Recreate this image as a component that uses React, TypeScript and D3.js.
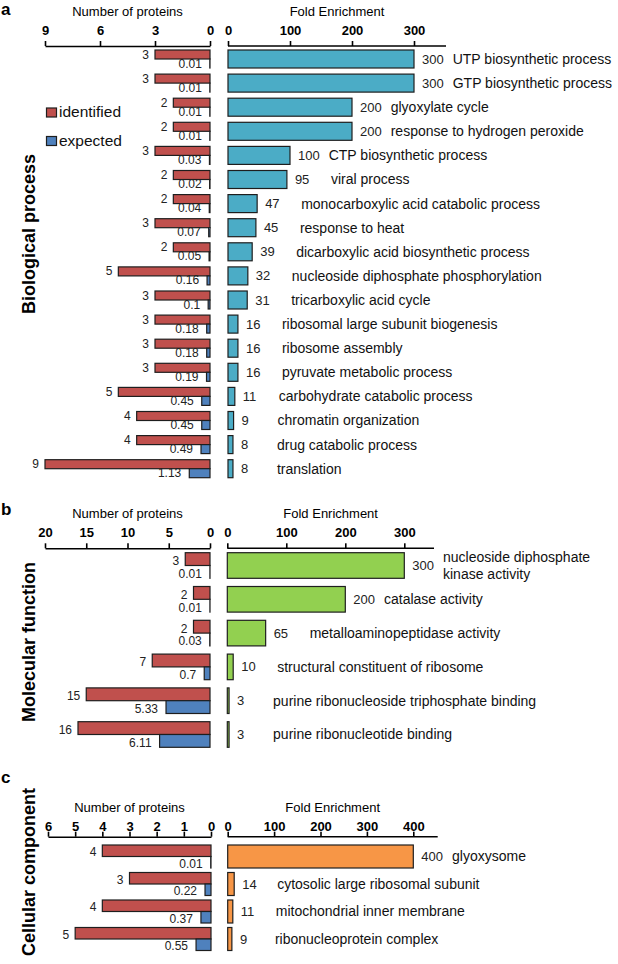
import * as d3 from "d3";
import { useEffect, useRef } from "react";

// a: Biological process
const bpTerms = [
  "UTP biosynthetic process",
  "GTP biosynthetic process",
  "glyoxylate cycle",
  "response to hydrogen peroxide",
  "CTP biosynthetic process",
  "viral process",
  "monocarboxylic acid catabolic process",
  "response to heat",
  "dicarboxylic acid biosynthetic process",
  "nucleoside diphosphate phosphorylation",
  "tricarboxylic acid cycle",
  "ribosomal large subunit biogenesis",
  "ribosome assembly",
  "pyruvate metabolic process",
  "carbohydrate catabolic process",
  "chromatin organization",
  "drug catabolic process",
  "translation",
];
const bpIdentified = [3, 3, 2, 2, 3, 2, 2, 3, 2, 5, 3, 3, 3, 3, 5, 4, 4, 9];
const bpExpected = [0.01, 0.01, 0.01, 0.01, 0.03, 0.02, 0.04, 0.07, 0.05, 0.16, 0.1, 0.18, 0.18, 0.19, 0.45, 0.45, 0.49, 1.13];
const bpFold = [300, 300, 200, 200, 100, 95, 47, 45, 39, 32, 31, 16, 16, 16, 11, 9, 8, 8];
const bpCountTicks = [9, 6, 3, 0];
const bpFoldTicks = [0, 100, 200, 300];

// b: Molecular function
const mfTerms = [
  "nucleoside diphosphate\nkinase activity",
  "catalase activity",
  "metalloaminopeptidase activity",
  "structural constituent of ribosome",
  "purine ribonucleoside triphosphate binding",
  "purine ribonucleotide binding",
];
const mfIdentified = [3, 2, 2, 7, 15, 16];
const mfExpected = [0.01, 0.01, 0.03, 0.7, 5.33, 6.11];
const mfFold = [300, 200, 65, 10, 3, 3];
const mfCountTicks = [20, 15, 10, 5, 0];
const mfFoldTicks = [0, 100, 200, 300];

// c: Cellular component
const ccTerms = [
  "glyoxysome",
  "cytosolic large ribosomal subunit",
  "mitochondrial inner membrane",
  "ribonucleoprotein complex",
];
const ccIdentified = [4, 3, 4, 5];
const ccExpected = [0.01, 0.22, 0.37, 0.55];
const ccFold = [400, 14, 11, 9];
const ccCountTicks = [6, 5, 4, 3, 2, 1, 0];
const ccFoldTicks = [0, 100, 200, 300, 400];

const RED = "#C0504D";
const BLUE = "#4F81BD";
const EDGE = "#1e1e1e";
const FONT = "Arial, 'Liberation Sans', sans-serif";

const panels = [
  {
    letter: "a", title: "Biological process", color: "#4BACC6",
    terms: bpTerms, identified: bpIdentified, expected: bpExpected, fold: bpFold,
    countTicks: bpCountTicks, foldTicks: bpFoldTicks,
    letterY: 15, titleY: 234, axisY: 46, titleGap: 30, tickPad: 6,
    rowTop: 50, rowStep: 24.1, barH: 18,
    left: [45, 210], right: [228, 414], axisEnd: 446, labelK: 36, legend: true,
  },
  {
    letter: "b", title: "Molecular function", color: "#92D050",
    terms: mfTerms, identified: mfIdentified, expected: mfExpected, fold: mfFold,
    countTicks: mfCountTicks, foldTicks: mfFoldTicks,
    letterY: 515, titleY: 642, axisY: 548.3, titleGap: 30, tickPad: 6,
    rowTop: 552.7, rowStep: 33.8, barH: 25.6,
    left: [45, 210], right: [227.3, 404.3], axisEnd: 434, labelK: 36, legend: false,
  },
  {
    letter: "c", title: "Cellular component", color: "#F79646",
    terms: ccTerms, identified: ccIdentified, expected: ccExpected, fold: ccFold,
    countTicks: ccCountTicks, foldTicks: ccFoldTicks,
    letterY: 783, titleY: 872, axisY: 836.7, titleGap: 25, tickPad: 1,
    rowTop: 845, rowStep: 27.5, barH: 23,
    left: [48, 211], right: [227.7, 413.3], axisEnd: 437.7, labelK: 35, legend: false,
  },
];

function styleAxis(ax) {
  ax.attr("font-family", FONT).attr("font-size", 13).attr("font-weight", "bold");
  ax.selectAll("text").attr("fill", "#000");
  ax.selectAll("line").attr("stroke", "#000").attr("stroke-width", 1.6);
  ax.select(".domain").attr("stroke", "#000").attr("stroke-width", 1.6);
}

function drawPanel(svg, p) {
  const g = svg.append("g").attr("font-family", FONT);
  const n = p.terms.length;
  const xL = d3.scaleLinear().domain([0, p.countTicks[0]]).range([p.left[1], p.left[0]]);
  const xR = d3.scaleLinear().domain([0, p.foldTicks[p.foldTicks.length - 1]]).range(p.right);
  const pad = 1 - p.barH / p.rowStep;
  const start = p.rowTop - (p.rowStep * pad) / 2;
  const y = d3.scaleBand().domain(p.terms).range([start, start + n * p.rowStep])
    .paddingInner(pad).paddingOuter(pad / 2);
  const half = y.bandwidth() / 2;
  const fmt = d3.format("d");

  // panel letter and rotated group title
  g.append("text").attr("x", 1).attr("y", p.letterY).attr("font-size", 17)
    .attr("font-weight", "bold").text(p.letter);
  g.append("text").attr("transform", `translate(35,${p.titleY}) rotate(-90)`)
    .attr("text-anchor", "middle").attr("font-size", 18).attr("font-weight", "bold")
    .text(p.title);

  // axis titles
  g.append("text").attr("x", (p.left[0] + p.left[1]) / 2).attr("y", p.axisY - p.titleGap)
    .attr("text-anchor", "middle").attr("font-size", 13).text("Number of proteins");
  g.append("text").attr("x", (p.right[0] + p.axisEnd) / 2).attr("y", p.axisY - p.titleGap)
    .attr("text-anchor", "middle").attr("font-size", 13).text("Fold Enrichment");

  // axes
  const axL = g.append("g").attr("transform", `translate(0,${p.axisY})`)
    .call(d3.axisTop(xL).tickValues(p.countTicks).tickFormat(fmt)
      .tickSize(5).tickSizeOuter(0).tickPadding(p.tickPad));
  styleAxis(axL);
  const axR = g.append("g").attr("transform", `translate(0,${p.axisY})`)
    .call(d3.axisTop(xR).tickValues(p.foldTicks).tickFormat(fmt)
      .tickSize(5).tickSizeOuter(0).tickPadding(p.tickPad));
  styleAxis(axR);
  axR.select(".domain").remove();
  axR.append("line").attr("x1", p.right[0]).attr("x2", p.axisEnd)
    .attr("stroke", "#000").attr("stroke-width", 1.6);

  const rows = p.terms.map((t, i) => ({
    term: t, identified: p.identified[i], expected: p.expected[i], fold: p.fold[i],
  }));

  // identified (red) and expected (blue) bars
  g.selectAll("rect.ident").data(rows).enter().append("rect").attr("class", "ident")
    .attr("x", (d) => xL(d.identified)).attr("y", (d) => y(d.term))
    .attr("width", (d) => xL(0) - xL(d.identified)).attr("height", half)
    .attr("fill", RED).attr("stroke", EDGE).attr("stroke-width", 1.2);
  g.selectAll("rect.expect").data(rows).enter().append("rect").attr("class", "expect")
    .attr("x", (d) => xL(d.expected)).attr("y", (d) => y(d.term) + half)
    .attr("width", (d) => xL(0) - xL(d.expected)).attr("height", half)
    .attr("fill", BLUE).attr("stroke", EDGE).attr("stroke-width", 1.2);

  g.selectAll("text.ident").data(rows).enter().append("text").attr("class", "ident")
    .attr("x", (d) => xL(d.identified) - 6).attr("y", (d) => y(d.term) + half - 0.5)
    .attr("text-anchor", "end").attr("font-size", 12).attr("fill", "#222")
    .text((d) => d.identified);
  g.selectAll("text.expect").data(rows).enter().append("text").attr("class", "expect")
    .attr("x", (d) => xL(d.expected) - 8).attr("y", (d) => y(d.term) + 2 * half - 0.5)
    .attr("text-anchor", "end").attr("font-size", 12).attr("fill", "#222")
    .text((d) => String(d.expected));

  // fold enrichment bars
  g.selectAll("rect.fold").data(rows).enter().append("rect").attr("class", "fold")
    .attr("x", xR(0)).attr("y", (d) => y(d.term))
    .attr("width", (d) => xR(d.fold) - xR(0)).attr("height", y.bandwidth())
    .attr("fill", p.color).attr("stroke", EDGE).attr("stroke-width", 1.2);

  rows.forEach((d) => {
    const cy = y(d.term) + half;
    const vx = xR(d.fold) + 8;
    const val = g.append("text").attr("x", vx).attr("y", cy).attr("dy", "0.35em")
      .attr("font-size", 13).attr("fill", "#222").text(d.fold);
    const w = val.node().getComputedTextLength();
    const lx = d.fold >= 100 ? vx + w + 9 : Math.max(vx + p.labelK, vx + w + 9);
    const lines = d.term.split("\n");
    const lab = g.append("text").attr("x", lx).attr("y", cy).attr("font-size", 14).attr("fill", "#111");
    lines.forEach((line, j) => {
      lab.append("tspan").attr("x", lx)
        .attr("dy", j === 0 ? `${0.35 - (lines.length - 1) * 0.62}em` : "1.24em")
        .text(line);
    });
  });

  if (p.legend) {
    const items = [
      { label: "identified", color: RED, y: 108 },
      { label: "expected", color: BLUE, y: 136.5 },
    ];
    items.forEach((it) => {
      g.append("rect").attr("x", 46.5).attr("y", it.y).attr("width", 10).attr("height", 9)
        .attr("fill", it.color).attr("stroke", EDGE).attr("stroke-width", 1.2);
      g.append("text").attr("x", 59).attr("y", it.y + 9.3).attr("font-size", 15.5)
        .attr("fill", "#111").text(it.label);
    });
  }
}

export default function App() {
  const svgRef = useRef(null);

  useEffect(() => {
    if (!svgRef.current) return;
    const svg = d3.select(svgRef.current);
    svg.selectAll("*").remove();
    panels.forEach((p) => drawPanel(svg, p));
  }, []);

  return (
    <svg
      ref={svgRef}
      width={618}
      height={964}
      style={{ position: "absolute", left: 0, top: 0, background: "#fff" }}
    />
  );
}
